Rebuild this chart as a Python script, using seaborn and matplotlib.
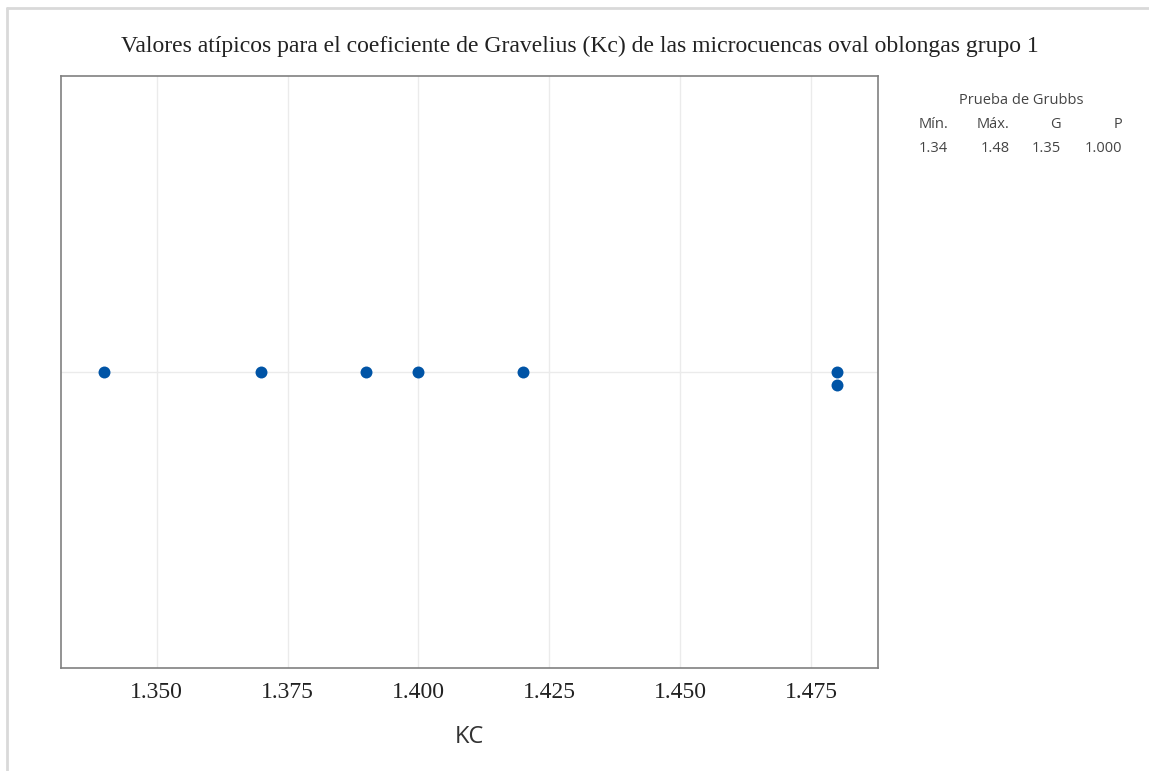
import matplotlib
matplotlib.use("Agg")
import matplotlib.pyplot as plt
import seaborn as sns
import pandas as pd

# data
kc = [1.34, 1.37, 1.39, 1.40, 1.42, 1.48, 1.48]
grubbs_headers = ["Mín.", "Máx.", "G", "P"]
grubbs_values = ["1.34", "1.48", "1.35", "1.000"]
xticks = [1.350, 1.375, 1.400, 1.425, 1.450, 1.475]

df = pd.DataFrame({"KC": kc})

sns.set_style("white")
fig = plt.figure(figsize=(11.49, 7.71), dpi=100)
ax = fig.add_axes([0.0531, 0.1336, 0.7110, 0.7678])

sns.swarmplot(data=df, x="KC", ax=ax, color="#0054A6", size=8.6, linewidth=0)

ax.set_xlim(1.3317, 1.4878)
ax.set_ylim(0.5, -0.5)
ax.set_xticks(xticks)
ax.set_xticklabels([f"{t:.3f}" for t in xticks], fontfamily="Liberation Serif", fontsize=17, color="#222222")
ax.set_yticks([])
ax.tick_params(axis="x", direction="out", length=5, width=1, color="#808080", pad=5)

# grid lines
for t in xticks:
    ax.axvline(t, color="#ebebeb", lw=1, zorder=0)
ax.axhline(0, color="#ebebeb", lw=1, zorder=0)

for s in ax.spines.values():
    s.set_color("#808080")
    s.set_linewidth(1.2)

ax.set_xlabel("KC", fontfamily="Open Sans", fontsize=17, color="#333333", labelpad=16)
ax.set_ylabel("")

fig.text(0.505, 0.940, "Valores atípicos para el coeficiente de Gravelius (Kc) de las microcuencas oval oblongas grupo 1",
         ha="center", va="center", fontfamily="Liberation Serif", fontsize=17, color="#222222")

# Grubbs test table
tkw = dict(fontfamily="Open Sans", fontsize=10.5, color="#444444", va="center")
fig.text(1021 / 1149, 1 - 101 / 771, "Prueba de Grubbs", ha="center", **tkw)
xs = [948, 1010, 1061, 1122]
for x, h, v in zip(xs, grubbs_headers, grubbs_values):
    fig.text(x / 1149, 1 - 125 / 771, h, ha="right", **tkw)
    fig.text(x / 1149, 1 - 149 / 771, v, ha="right", **tkw)

# screenshot edge lines (top and left only)
fig.add_artist(plt.Line2D([7 / 1149, 1], [1 - 8 / 771, 1 - 8 / 771], transform=fig.transFigure,
                          color="#d9d9d9", lw=2))
fig.add_artist(plt.Line2D([7 / 1149, 7 / 1149], [0, 1 - 8 / 771], transform=fig.transFigure,
                          color="#d9d9d9", lw=2))

fig.savefig("out.png", dpi=100)
